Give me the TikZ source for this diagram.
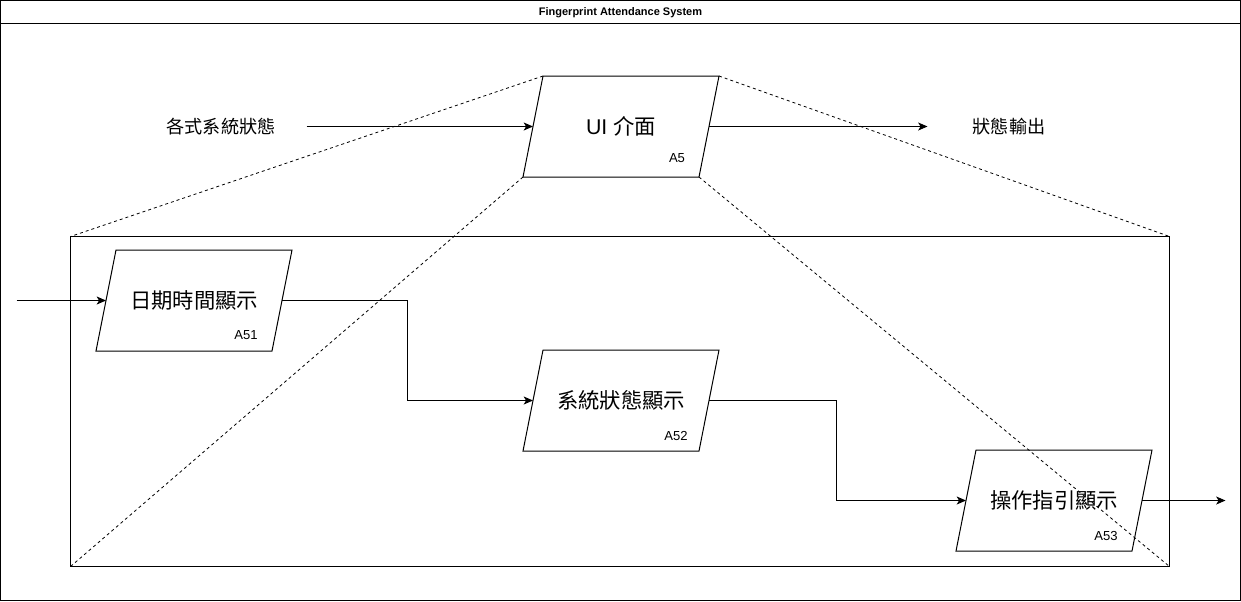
\documentclass[tikz,border=0pt]{standalone}
\usepackage{fontspec}
\setmainfont{Liberation Sans}
\newfontfamily\cjk{Noto Sans CJK TC}
\usetikzlibrary{arrows.meta,calc}
\begin{document}
\begin{tikzpicture}[x=0.75pt,y=-0.75pt,
  line width=0.75pt,
  arr/.style={-{Stealth[length=7pt,width=6pt,inset=1.8pt]}},
  guide/.style={dash pattern=on 2.25pt off 2.25pt,line width=0.6pt},
  proc/.style={minimum width=131.25pt,minimum height=75pt,inner sep=0pt,font=\fontsize{16pt}{19pt}\selectfont},
  tag/.style={font=\fontsize{9.8pt}{11pt}\selectfont,inner sep=0pt},
  side/.style={font=\cjk\fontsize{13.6pt}{16pt}\selectfont,inner sep=0pt}]
\useasboundingbox (-0.5,-0.5) rectangle (1240.5,600.5);
% outer frame
\draw (0,0) rectangle (1240,600);
\draw (0,23) -- (1240,23);
\node[font=\bfseries\fontsize{8.25pt}{10pt}\selectfont] (title) at (620,12) {Fingerprint Attendance System};
% inner frame
\draw (70,236) rectangle (1169,566);
% process nodes
\node[proc] (a5) at (620.5,126) {UI {\cjk 介面}};
\node[proc] (a51) at (193.5,300) {\cjk 日期時間顯示};
\node[proc] (a52) at (620.5,400) {\cjk 系統狀態顯示};
\node[proc] (a53) at (1053.5,500) {\cjk 操作指引顯示};
\foreach \n in {a5,a51,a52,a53}{
  \draw ($(\n.north west)+(10,0)$) -- ($(\n.north east)+(10,0)$) -- ($(\n.south east)+(-10,0)$) -- ($(\n.south west)+(-10,0)$) -- cycle;
}
\node[tag] (t5) at ($(a5)+(56,32)$) {A5};
\node[tag] (t51) at ($(a51)+(52,35)$) {A51};
\node[tag] (t52) at ($(a52)+(55,35)$) {A52};
\node[tag] (t53) at ($(a53)+(52,35)$) {A53};
% side labels
\node[side] (in) at (220.5,126) {各式系統狀態};
\node[side] (out) at (1008.5,126) {狀態輸出};
\coordinate (inS) at (306,126);
\coordinate (outE) at (927,126);
\coordinate (leftS) at (16,300);
\coordinate (rightE) at (1225,500);
% connectors
\draw[arr] (inS) -- (a5.west);
\draw[arr] (a5.east) -- (outE);
\draw[arr] (leftS) -- (a51.west);
\draw[arr] (a51.east) -| (407,350) |- (a52.west);
\draw[arr] (a52.east) -| (836,450) |- (a53.west);
\draw[arr] (a53.east) -- (rightE);
% guide lines
\draw[guide] ($(a5.north west)+(10,0)$) -- (70,236);
\draw[guide] ($(a5.north east)+(10,0)$) -- (1169,236);
\draw[guide] ($(a5.south west)+(-10,0)$) -- (70,566);
\draw[guide] ($(a5.south east)+(-10,0)$) -- (1169,566);
\end{tikzpicture}
\end{document}
